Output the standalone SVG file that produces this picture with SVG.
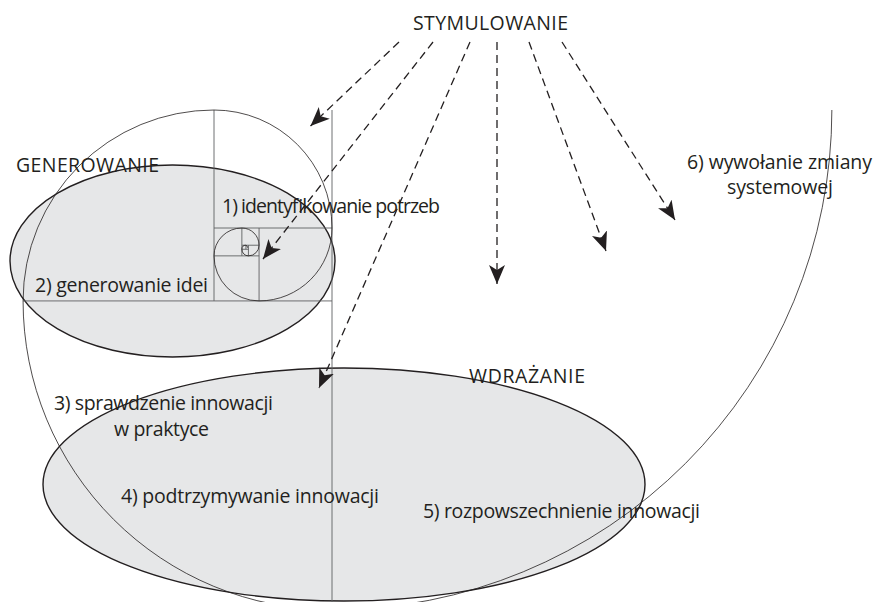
<svg xmlns="http://www.w3.org/2000/svg" width="875" height="602" viewBox="0 0 875 602">
  <style>
    .phase { fill: #e6e7e8; stroke: #231f20; stroke-width: 1.4; }
    .grid { fill: none; stroke: #5f6062; stroke-width: 0.9; }
    .spiral { fill: none; stroke: #231f20; stroke-width: 0.8; }
    .lbl { font-family: "Open Sans", "Noto Sans", sans-serif; font-size: 19.5px; fill: #231f20; }
    .arrow { fill: none; stroke: #231f20; stroke-width: 1.3; stroke-dasharray: 8 5; marker-end: url(#head); }
  </style>
  <defs>
    <marker id="head" markerUnits="userSpaceOnUse" markerWidth="22" markerHeight="16" refX="19" refY="8" orient="auto">
      <path d="M0,0 L19,8 L0,16 L5,8 Z" fill="#231f20"/>
    </marker>
  </defs>

  <rect width="875" height="602" fill="#ffffff"/>

  <!-- phase: generating ideas -->
  <g id="generowanie">
    <ellipse class="phase" cx="172.5" cy="261" rx="162.5" ry="96"/>
  </g>

  <!-- phase: implementation -->
  <g id="wdrazanie">
    <ellipse class="phase" cx="344" cy="484.5" rx="301" ry="116.5"/>
  </g>

  <!-- golden-rectangle grid -->
  <g id="grid" class="grid">
    <line x1="214" y1="110" x2="214" y2="300.93"/>
    <line x1="332" y1="110" x2="332" y2="602"/>
    <line x1="214" y1="228" x2="332" y2="228"/>
    <line x1="23.07" y1="300.93" x2="332" y2="300.93"/>
    <line x1="259.07" y1="228" x2="259.07" y2="300.93"/>
    <line x1="214" y1="255.86" x2="259.07" y2="255.86"/>
    <line x1="241.86" y1="228" x2="241.86" y2="255.86"/>
    <line x1="241.86" y1="245.22" x2="259.07" y2="245.22"/>
    <line x1="248.43" y1="245.22" x2="248.43" y2="255.86"/>
    <line x1="241.86" y1="249.28" x2="248.43" y2="249.28"/>
    <line x1="245.92" y1="245.22" x2="245.92" y2="249.28"/>
  </g>

  <!-- golden spiral, quarter arcs growing outward -->
  <g id="spiral">
    <path class="spiral" d="M247.5,247.73 A2.51 2.51 0 0 0 245.92,245.22
      A4.06 4.06 0 0 0 241.86,249.28
      A6.58 6.58 0 0 0 248.43,255.86
      A10.64 10.64 0 0 0 259.07,245.22
      A17.22 17.22 0 0 0 241.86,228
      A27.86 27.86 0 0 0 214,255.86
      A45.07 45.07 0 0 0 259.07,300.93
      A72.93 72.93 0 0 0 332,228
      A118 118 0 0 0 214,110
      A190.93 190.93 0 0 0 23.07,300.93
      A308.93 308.93 0 0 0 332,609.86
      A499.86 499.86 0 0 0 831.86,110"/>
  </g>

  <!-- labels -->
  <g id="stymulowanie">
    <text class="lbl" x="413" y="30" textLength="155">STYMULOWANIE</text>
  </g>
  <g id="label-generowanie">
    <text class="lbl" x="16" y="172" textLength="143">GENEROWANIE</text>
  </g>
  <g id="label-wdrazanie">
    <text class="lbl" x="469" y="383" textLength="116">WDRAŻANIE</text>
  </g>
  <g id="step1">
    <text class="lbl" x="222" y="213" textLength="218">1) identyfikowanie potrzeb</text>
  </g>
  <g id="step2">
    <text class="lbl" x="35" y="292" textLength="173">2) generowanie idei</text>
  </g>
  <g id="step3">
    <text class="lbl" x="54" y="410" textLength="219">3) sprawdzenie innowacji</text>
    <text class="lbl" x="114" y="436" textLength="95">w praktyce</text>
  </g>
  <g id="step4">
    <text class="lbl" x="121" y="503" textLength="258">4) podtrzymywanie innowacji</text>
  </g>
  <g id="step5">
    <text class="lbl" x="423" y="518" textLength="277">5) rozpowszechnienie innowacji</text>
  </g>
  <g id="step6">
    <text class="lbl" x="687" y="169" textLength="185">6) wywołanie zmiany</text>
    <text class="lbl" x="727" y="194" textLength="106">systemowej</text>
  </g>

  <!-- stimulation arrows -->
  <g id="connectors">
    <line class="arrow" x1="399" y1="42" x2="310.5" y2="126"/>
    <line class="arrow" x1="433" y1="42" x2="263" y2="259"/>
    <line class="arrow" x1="470" y1="42" x2="319" y2="388"/>
    <line class="arrow" x1="497" y1="42" x2="497" y2="284"/>
    <line class="arrow" x1="529" y1="42" x2="606" y2="251"/>
    <line class="arrow" x1="562" y1="42" x2="675" y2="220"/>
  </g>
</svg>
